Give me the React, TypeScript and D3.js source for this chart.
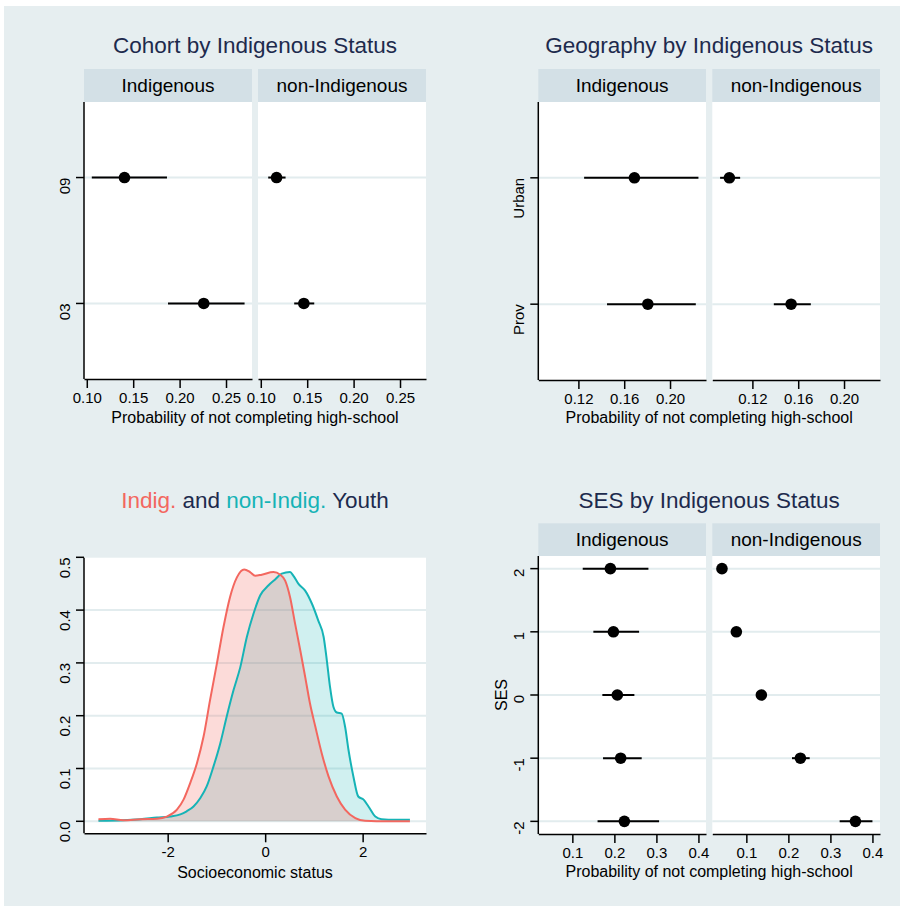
import { useEffect, useRef } from "react";
import * as d3 from "d3";

const FONT = "Liberation Sans, Arial, Helvetica, sans-serif";
const BG = "#e6eef0";
const STRIP = "#d3e0e6";
const GRID = "#e2ecee";
const NAVY = "#1d2a4d";
const RED = "#f3675f";
const TEAL = "#16b3b6";

const facets = ["Indigenous", "non-Indigenous"];

// cohort panel
const cohortCats = ["09", "03"];
const cohortIndig = [0.1406, 0.226];
const cohortIndigLo = [0.1054, 0.1875];
const cohortIndigHi = [0.1864, 0.27];
const cohortNon = [0.117, 0.1464];
const cohortNonLo = [0.108, 0.136];
const cohortNonHi = [0.1267, 0.1576];
const cohortTicks = [0.1, 0.15, 0.2, 0.25];

// geography panel
const geoCats = ["Urban", "Prov"];
const geoIndig = [0.1689, 0.1806];
const geoIndigLo = [0.125, 0.145];
const geoIndigHi = [0.2248, 0.2225];
const geoNon = [0.0999, 0.1538];
const geoNonLo = [0.0918, 0.1387];
const geoNonHi = [0.1093, 0.171];
const geoTicks = [0.12, 0.16, 0.2];

// SES panel
const sesLevels = [2, 1, 0, -1, -2];
const sesIndig = [0.1905, 0.1977, 0.207, 0.215, 0.2238];
const sesIndigLo = [0.1247, 0.15, 0.1714, 0.173, 0.16];
const sesIndigHi = [0.281, 0.2588, 0.2476, 0.265, 0.3064];
const sesNon = [0.042, 0.0762, 0.1357, 0.2286, 0.3595];
const sesNonLo = [0.039, 0.072, 0.131, 0.2086, 0.322];
const sesNonHi = [0.045, 0.08, 0.14, 0.2507, 0.4];
const sesTicks = [0.1, 0.2, 0.3, 0.4];

// density of socioeconomic status
const indigDensity = [
  [-3.42, 0.004], [-3.18, 0.005], [-2.91, 0.002], [-2.56, 0.004], [-2.22, 0.005],
  [-2.02, 0.009], [-1.81, 0.022], [-1.675, 0.041], [-1.54, 0.072], [-1.4, 0.11],
  [-1.265, 0.16], [-1.13, 0.23], [-0.99, 0.299], [-0.855, 0.368], [-0.72, 0.425],
  [-0.58, 0.462], [-0.43, 0.477], [-0.31, 0.472], [-0.205, 0.465], [-0.07, 0.467],
  [0.17, 0.472], [0.31, 0.467], [0.41, 0.456], [0.51, 0.425], [0.615, 0.374],
  [0.72, 0.324], [0.82, 0.274], [0.92, 0.223], [1.03, 0.179], [1.16, 0.129],
  [1.3, 0.085], [1.47, 0.047], [1.64, 0.022], [1.85, 0.006], [2.05, 0.001],
  [2.53, 0], [2.97, 0],
];
const nonIndigDensity = [
  [-3.42, 0.001], [-2.91, 0.002], [-2.56, 0.004], [-2.22, 0.007], [-1.95, 0.009],
  [-1.74, 0.013], [-1.61, 0.019], [-1.47, 0.028], [-1.33, 0.044], [-1.2, 0.066],
  [-1.06, 0.104], [-0.92, 0.148], [-0.79, 0.198], [-0.65, 0.248], [-0.51, 0.292],
  [-0.376, 0.349], [-0.24, 0.393], [-0.1, 0.428], [0.07, 0.447], [0.205, 0.458],
  [0.34, 0.469], [0.51, 0.472], [0.58, 0.465], [0.68, 0.45], [0.82, 0.437],
  [0.96, 0.412], [1.09, 0.38], [1.2, 0.349], [1.265, 0.305], [1.33, 0.255],
  [1.4, 0.217], [1.47, 0.206], [1.57, 0.204], [1.64, 0.179], [1.71, 0.135],
  [1.81, 0.085], [1.91, 0.047], [2.02, 0.041], [2.12, 0.028], [2.26, 0.009],
  [2.39, 0.004], [2.67, 0.003], [2.97, 0.003],
];
const densTicksX = [-2, 0, 2];
const densTicksY = [0, 0.1, 0.2, 0.3, 0.4, 0.5];

const AXIS_TITLE = "Probability of not completing high-school";

function styleAxis(ax: any) {
  ax.attr("font-family", FONT).attr("font-size", 15);
  ax.selectAll("path, line").attr("stroke", "#000").attr("stroke-width", 1.5);
  ax.selectAll("text").attr("fill", "#000");
}

function yTick(g: any, x0: number, y: number, label: string) {
  g.append("line").attr("x1", x0 - 8).attr("x2", x0).attr("y1", y).attr("y2", y)
    .attr("stroke", "#000").attr("stroke-width", 1.5);
  g.append("text")
    .attr("transform", `translate(${x0 - 14},${y}) rotate(-90)`)
    .attr("text-anchor", "end")
    .attr("font-size", 15)
    .text(label);
}

function drawDots(svg: any, o: any) {
  const g = svg.append("g");
  const cx = (o.facetX[0][0] + o.facetX[1][1]) / 2;
  g.append("text").attr("x", cx).attr("y", o.titleY).attr("text-anchor", "middle")
    .attr("font-size", 22.5).attr("fill", NAVY).text(o.title);

  o.facetX.forEach(([x0, x1]: number[], fi: number) => {
    g.append("rect").attr("x", x0).attr("y", o.stripTop).attr("width", x1 - x0)
      .attr("height", o.top - o.stripTop).attr("fill", STRIP);
    g.append("text").attr("x", (x0 + x1) / 2).attr("y", (o.stripTop + o.top) / 2 + 6.8)
      .attr("text-anchor", "middle").attr("font-size", 19).text(facets[fi]);
    g.append("rect").attr("x", x0).attr("y", o.top).attr("width", x1 - x0)
      .attr("height", o.bottom - o.top).attr("fill", "#fff");

    o.cats.forEach((c: any) => {
      g.append("line").attr("x1", x0).attr("x2", x1).attr("y1", o.y(c)).attr("y2", o.y(c))
        .attr("stroke", GRID).attr("stroke-width", 2);
    });

    const x = d3.scaleLinear().domain(o.domain).range([x0, x1]);
    const ax = g.append("g").attr("transform", `translate(0,${o.bottom})`)
      .call(d3.axisBottom(x).tickValues(o.ticks).tickFormat(o.fmt)
        .tickSize(9).tickSizeOuter(0).tickPadding(4.5));
    styleAxis(ax);

    const s = o.series[fi];
    s.est.forEach((v: number, i: number) => {
      const yy = o.y(o.cats[i]);
      g.append("line").attr("x1", x(s.lo[i])).attr("x2", x(s.hi[i])).attr("y1", yy).attr("y2", yy)
        .attr("stroke", "#000").attr("stroke-width", 2);
      g.append("circle").attr("cx", x(v)).attr("cy", yy).attr("r", 5.8).attr("fill", "#000");
    });
  });

  const x0 = o.facetX[0][0];
  g.append("line").attr("x1", x0).attr("x2", x0).attr("y1", o.top).attr("y2", o.bottom)
    .attr("stroke", "#000").attr("stroke-width", 1.5);
  o.cats.forEach((c: any) => yTick(g, x0, o.y(c), String(c)));

  if (o.yTitle) {
    g.append("text")
      .attr("transform", `translate(${x0 - 31.5},${(o.top + o.bottom) / 2}) rotate(-90)`)
      .attr("text-anchor", "middle").attr("font-size", 16).text(o.yTitle);
  }

  g.append("text").attr("x", cx).attr("y", o.axisTitleY).attr("text-anchor", "middle")
    .attr("font-size", 16).text(AXIS_TITLE);
}

function drawDensity(svg: any) {
  const g = svg.append("g");
  const left = 84, right = 426, top = 557.7, bottom = 833.3;
  const x = d3.scaleLinear().domain([-3.717, 3.3]).range([left, right]);
  const y = d3.scaleLinear().domain([0, 0.5]).range([821.3, 557.3]);

  const t = g.append("text").attr("x", (left + right) / 2).attr("y", 508)
    .attr("text-anchor", "middle").attr("font-size", 22.5);
  t.append("tspan").attr("fill", RED).text("Indig.");
  t.append("tspan").attr("fill", NAVY).text(" and ");
  t.append("tspan").attr("fill", TEAL).text("non-Indig.");
  t.append("tspan").attr("fill", NAVY).text(" Youth");

  g.append("rect").attr("x", left).attr("y", top).attr("width", right - left)
    .attr("height", bottom - top).attr("fill", "#fff");
  densTicksY.slice(0, 5).forEach((v) => {
    g.append("line").attr("x1", left).attr("x2", right).attr("y1", y(v)).attr("y2", y(v))
      .attr("stroke", GRID).attr("stroke-width", 2);
  });

  const area = d3.area<number[]>().x((d) => x(d[0])).y0(y(0)).y1((d) => y(d[1]))
    .curve(d3.curveMonotoneX);
  const line = d3.line<number[]>().x((d) => x(d[0])).y((d) => y(d[1])).curve(d3.curveMonotoneX);

  g.append("path").attr("d", area(nonIndigDensity)).attr("fill", TEAL).attr("fill-opacity", 0.2);
  g.append("path").attr("d", area(indigDensity)).attr("fill", RED).attr("fill-opacity", 0.24);
  g.append("path").attr("d", line(nonIndigDensity)).attr("fill", "none")
    .attr("stroke", TEAL).attr("stroke-width", 2);
  g.append("path").attr("d", line(indigDensity)).attr("fill", "none")
    .attr("stroke", RED).attr("stroke-width", 2);

  const ax = g.append("g").attr("transform", `translate(0,${bottom})`)
    .call(d3.axisBottom(x).tickValues(densTicksX).tickFormat((d: any) => String(d))
      .tickSize(9).tickSizeOuter(0).tickPadding(4.5));
  styleAxis(ax);

  g.append("line").attr("x1", left).attr("x2", left).attr("y1", top).attr("y2", bottom)
    .attr("stroke", "#000").attr("stroke-width", 1.5);
  densTicksY.forEach((v) => yTick(g, left, y(v), d3.format(".1f")(v)));

  g.append("text").attr("x", (left + right) / 2).attr("y", 878).attr("text-anchor", "middle")
    .attr("font-size", 16).text("Socioeconomic status");
}

export default function App() {
  const svgRef = useRef<SVGSVGElement>(null);

  useEffect(() => {
    if (!svgRef.current) return;
    document.body.style.margin = "0";
    const svg = d3.select(svgRef.current);
    svg.selectAll("*").remove();

    svg.append("rect").attr("x", 4).attr("y", 6).attr("width", 896).attr("height", 900).attr("fill", BG);

    const pointY = (cats: string[], top: number, bottom: number) =>
      d3.scalePoint().domain(cats).range([top, bottom]).padding(0.6);

    const fmt2 = (d: any) => d3.format(".2f")(d);

    drawDots(svg, {
      title: "Cohort by Indigenous Status", titleY: 53,
      facetX: [[84, 252], [258, 426]], stripTop: 69, top: 102, bottom: 379,
      cats: cohortCats, y: pointY(cohortCats, 102, 379),
      domain: [0.097, 0.278], ticks: cohortTicks, fmt: fmt2,
      series: [
        { est: cohortIndig, lo: cohortIndigLo, hi: cohortIndigHi },
        { est: cohortNon, lo: cohortNonLo, hi: cohortNonHi },
      ],
      axisTitleY: 423,
    });

    drawDots(svg, {
      title: "Geography by Indigenous Status", titleY: 53,
      facetX: [[538.3, 706], [712.3, 880]], stripTop: 69, top: 102, bottom: 380,
      cats: geoCats, y: pointY(geoCats, 102, 380),
      domain: [0.085, 0.2314], ticks: geoTicks, fmt: fmt2,
      series: [
        { est: geoIndig, lo: geoIndigLo, hi: geoIndigHi },
        { est: geoNon, lo: geoNonLo, hi: geoNonHi },
      ],
      axisTitleY: 423,
    });

    drawDensity(svg);

    drawDots(svg, {
      title: "SES by Indigenous Status", titleY: 508,
      facetX: [[538.3, 706], [712.3, 880]], stripTop: 523.3, top: 556, bottom: 834,
      cats: sesLevels, y: d3.scaleLinear().domain([-2.2, 2.2]).range([834, 556]),
      domain: [0.019, 0.418], ticks: sesTicks, fmt: (d: any) => d3.format(".1f")(d),
      series: [
        { est: sesIndig, lo: sesIndigLo, hi: sesIndigHi },
        { est: sesNon, lo: sesNonLo, hi: sesNonHi },
      ],
      yTitle: "SES",
      axisTitleY: 877,
    });
  }, []);

  return <svg ref={svgRef} width={905} height={911} style={{ display: "block", fontFamily: FONT }} />;
}
